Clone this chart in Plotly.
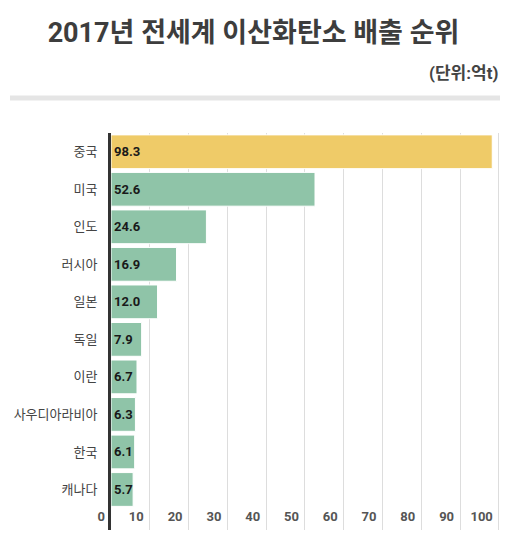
import plotly.graph_objs as go

# 2017 CO2 emissions by country (unit: 억t)
countries = ['중국', '미국', '인도', '러시아', '일본', '독일', '이란', '사우디아라비아', '한국', '캐나다']
emissions = [98.3, 52.6, 24.6, 16.9, 12.0, 7.9, 6.7, 6.3, 6.1, 5.7]
x_ticks = [0, 10, 20, 30, 40, 50, 60, 70, 80, 90, 100]

colors = ['#EFCB68' if c == '중국' else '#8FC4A8' for c in countries]

font_family = 'Roboto, "Noto Sans CJK KR", sans-serif'

# page body has an 8px margin, so the figure is sized for the remaining space
W, H = 505, 535
L, R, T, B = 103, 13, 125, 13
plot_w = W - L - R
plot_h = H - T - B

fig = go.Figure(go.Bar(
    x=emissions,
    y=countries,
    orientation='h',
    marker=dict(color=colors, line=dict(color='white', width=1)),
    text=['%.1f' % v for v in emissions],
    textposition='inside',
    insidetextanchor='start',
    textfont=dict(family=font_family, size=13, color='#1a1a1a', weight='bold'),
    textangle=0,
    cliponaxis=False,
))

fig.update_layout(
    width=W,
    height=H,
    margin=dict(l=L, r=R, t=T, b=B, autoexpand=False),
    paper_bgcolor='white',
    plot_bgcolor='white',
    bargap=0.1,
    showlegend=False,
    uniformtext=dict(minsize=13, mode='show'),
    font=dict(family=font_family, color='#444444'),
    title=dict(
        text='<b>2017년 전세계 이산화탄소 배출 순위</b>',
        xref='container', x=245.5 / W, xanchor='center',
        yref='container', y=1 - 25 / H, yanchor='middle',
        font=dict(size=27, color='#3d3d3d'),
    ),
    xaxis=dict(
        range=[0, 100.3],
        tickvals=x_ticks,
        ticklabelposition='inside left',
        ticklabeloverflow='allow',
        ticklabelshift=-6,
        tickfont=dict(size=13, color='#555555', weight='bold'),
        showgrid=True,
        gridcolor='#dddddd',
        gridwidth=1,
        zeroline=False,
        showline=False,
        automargin=False,
    ),
    yaxis=dict(
        type='category',
        categoryorder='array',
        categoryarray=countries,
        range=[10.08, -0.5],
        tickfont=dict(size=13, color='#444444'),
        ticklabelstandoff=8,
        showgrid=False,
        showline=True,
        linecolor='#333333',
        linewidth=3,
        zeroline=False,
        automargin=False,
    ),
    annotations=[dict(
        text='<b>(단위:억t)</b>',
        xref='paper', yref='paper', x=1.0, y=1 + 60 / plot_h,
        xanchor='right', yanchor='middle',
        showarrow=False,
        font=dict(size=17, color='#444444'),
    )],
    shapes=[dict(
        type='line', xref='paper', yref='paper',
        x0=-101 / plot_w, x1=1.0, y0=1 + 35 / plot_h, y1=1 + 35 / plot_h,
        line=dict(color='#e5e5e5', width=5),
    )],
)

fig.write_html("out.html")
